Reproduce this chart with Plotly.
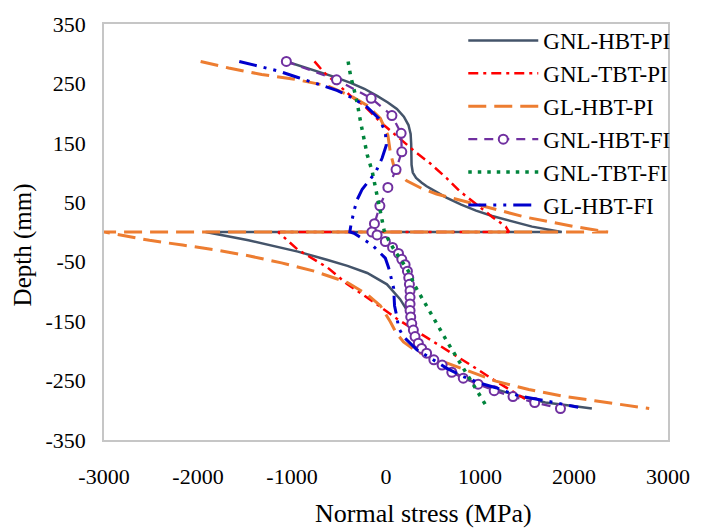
import plotly.graph_objects as go

# ---------------- data (stress MPa, depth mm) ----------------
gnl_hbt_pi_x = [-1060, -900, -726, -550, -376, -230, -95, 20, 116, 190, 239, 262, 268, 270, 272, 285, 320, 380, 432, 540, 642, 800, 958, 1130, 1305, 1554, 1870,
                -1919, -1463, -937, -620, -410, -200, 10, 150, 255, 270, 300, 358, 450, 642, 800, 990, 1170, 1344, 1520, 1695, 1950, 2190]
gnl_hbt_pi_y = [287, 279, 271, 261, 251, 241, 229, 218, 207, 194, 180, 165, 148, 130, 113, 100, 91, 83, 77, 67, 58, 46, 36, 27, 20, 9, 0,
                0, -14, -33, -47, -57, -69, -88, -113, -140, -155, -175, -196, -210, -229, -243, -256, -265, -273, -280, -287, -292, -297]

gnl_tbt_pi_x = [-761, -656, -516, -376, -235, -60, 81, 186, 326, 466, 642, 782, 958, 1133, 1274, 1309,
                -1147, -937, -621, -410, -129, 116, 397, 642, 923, 1168, 1449, 1480]
gnl_tbt_pi_y = [287, 268, 249, 229, 213, 185, 166, 152, 133, 116, 91, 69, 47, 25, 9, 0,
                0, -30, -60, -88, -118, -146, -174, -198, -226, -251, -277, -281]

gl_hbt_pi_x = [-1972, -1674, -1323, -972, -621, -376, -200, -60, 20, 45, 80, 120, 221, 397, 537, 958, 1484, 2010, 2362,
               -3000, -2814, -2516, -2165, -1814, -1463, -1112, -761, -410, -200, -60, 46, 110, 186, 326, 502, 818, 1168, 1519, 1870, 2221, 2500, 2800]
gl_hbt_pi_y = [287, 276, 265, 257, 246, 229, 213, 191, 163, 135, 113, 102, 86, 72, 64, 47, 25, 9, 0,
               0, -5, -14, -22, -30, -40, -52, -66, -85, -105, -124, -151, -170, -185, -201, -212, -231, -251, -265, -276, -284, -290, -297]

gnl_hbt_fi_x = [-1060, -526, -158, 63, 161, 168, 107, 20, -65, -123, -150, -95, -7, 70, 133, 168, 203, 228, 242, 249, 256, 256, 256, 256,
                263, 274, 291, 309, 344, 379, 432, 509, 597, 700, 822, 980, 1151, 1351, 1582, 1856]
gnl_hbt_fi_y = [287, 256, 225, 196, 166, 135, 105, 75, 44, 14, 0, -5, -16, -26, -36, -46, -55, -66, -77, -88, -99, -110, -121, -132,
                -143, -154, -165, -176, -187, -196, -204, -215, -224, -236, -246, -256, -267, -277, -287, -297]

gnl_tbt_fi_x = [-403, -376, -340, -305, -270, -235, -200, -147, -112, -77, -42, -20, 28, 98, 168, 239, 309, 397, 484, 572, 660, 747, 835, 923, 1010, 1063]
gnl_tbt_fi_y = [287, 262, 240, 216, 185, 158, 130, 102, 75, 42, 20, 3, -14, -33, -49, -66, -91, -116, -140, -163, -187, -209, -233, -256, -278, -292]

gl_hbt_fi_x = [-1561, -1358, -1147, -937, -726, -516, -340, -200, -77, -7, 3, -42, -112, -182, -253, -305, -340, -376, -385,
               -340, -147, -7, 28, 81, 91, 116, 133, 186, 326, 502, 642, 818, 993, 1168, 1414, 1695, 2045]
gl_hbt_fi_y = [287, 279, 271, 260, 249, 238, 224, 210, 191, 169, 146, 124, 100, 86, 72, 55, 36, 9, 0,
               -2, -22, -44, -60, -94, -124, -143, -161, -176, -198, -215, -229, -243, -254, -262, -276, -284, -295]

series_names = ["GNL-HBT-PI", "GNL-TBT-PI", "GL-HBT-PI", "GNL-HBT-FI", "GNL-TBT-FI", "GL-HBT-FI"]
x_ticks = [-3000, -2000, -1000, 0, 1000, 2000, 3000]
y_ticks = [350, 250, 150, 50, -50, -150, -250, -350]

FONT = "Liberation Serif"

fig = go.Figure()

def add(x, y, name, color, width, dash, marker=None):
    kw = dict(x=x, y=y, name=name, legendgroup=name,
              line=dict(color=color, width=width, dash=dash))
    if marker:
        kw["mode"] = "lines+markers"
        kw["marker"] = marker
    else:
        kw["mode"] = "lines"
    fig.add_trace(go.Scatter(**kw))

add(gnl_hbt_pi_x, gnl_hbt_pi_y, series_names[0], "#44546A", 2.5, "solid")
add(gnl_tbt_pi_x, gnl_tbt_pi_y, series_names[1], "#FF0000", 2.5, "10px,5px,3px,5px")
add(gl_hbt_pi_x, gl_hbt_pi_y, series_names[2], "#ED7D31", 3, "18px,8px")
add(gnl_hbt_fi_x, gnl_hbt_fi_y, series_names[3], "#7030A0", 2.25, "9px,7px",
    marker=dict(symbol="circle", size=9, color="white", line=dict(color="#7030A0", width=2)))
add(gnl_tbt_fi_x, gnl_tbt_fi_y, series_names[4], "#00843C", 3.5, "3.5px,6px")
add(gl_hbt_fi_x, gl_hbt_fi_y, series_names[5], "#0000CC", 3, "18px,7px,3px,7px,3px,7px")

fig.update_layout(
    width=702, height=530,
    margin=dict(l=104, r=26, t=17, b=90),
    paper_bgcolor="white", plot_bgcolor="white",
    font=dict(family=FONT, size=22, color="black"),
    showlegend=True,
    legend=dict(x=0.637, y=1.012, xanchor="left", yanchor="top",
                bgcolor="rgba(0,0,0,0)", font=dict(family=FONT, size=23, color="black"),
                itemwidth=70, tracegroupgap=1.5, traceorder="normal"),
    xaxis=dict(range=[-3000, 3000], tickvals=x_ticks, ticktext=[str(v) for v in x_ticks],
               showgrid=False, zeroline=False, showline=True, mirror=True,
               linecolor="#C6C6C6", linewidth=1.5, ticks="", ticklabelstandoff=16,
               tickfont=dict(family=FONT, size=22, color="black")),
    yaxis=dict(range=[-350, 350], tickvals=y_ticks, ticktext=[str(v) for v in y_ticks],
               showgrid=False, zeroline=False, showline=True, mirror=True,
               linecolor="#C6C6C6", linewidth=1.5, ticks="", ticklabelstandoff=12,
               tickfont=dict(family=FONT, size=22, color="black")),
    annotations=[
        dict(text="Normal stress (MPa)", xref="paper", yref="paper", x=0.566, y=-0.177,
             xanchor="center", yanchor="middle", showarrow=False,
             font=dict(family=FONT, size=26, color="black")),
        dict(text="Depth (mm)", xref="paper", yref="paper", x=-0.142, y=0.47,
             xanchor="center", yanchor="middle", showarrow=False, textangle=-90,
             font=dict(family=FONT, size=25, color="black")),
    ],
)

fig.write_html("out.html")
